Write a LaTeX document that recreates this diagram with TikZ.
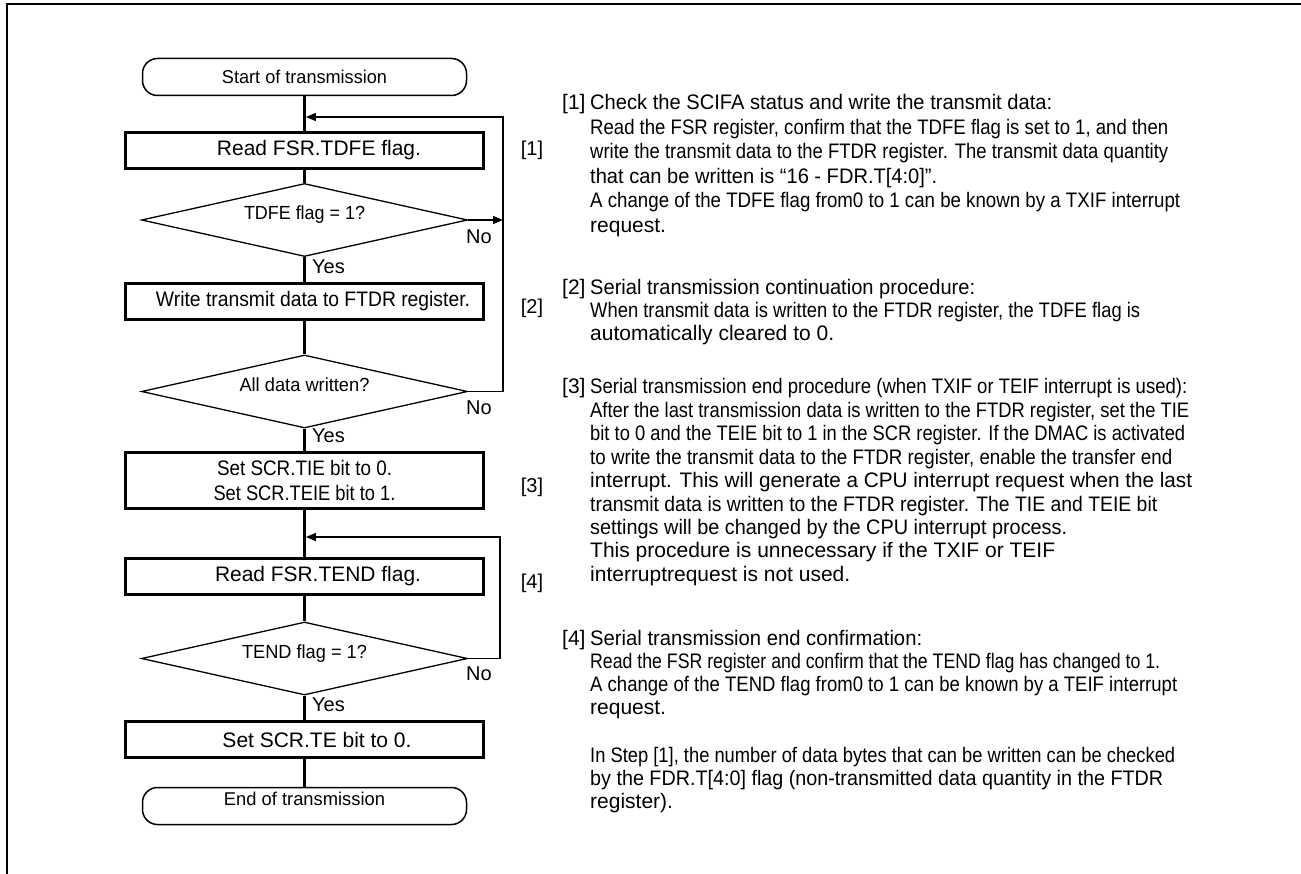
\documentclass[tikz,border=0pt]{standalone}
\usepackage{fontspec}
\setmainfont{Liberation Sans}
\usepackage{graphicx}
\usetikzlibrary{shapes.geometric,arrows.meta}
\newcommand{\fitto}[2]{\resizebox{#1pt}{\height}{#2}}
\newcommand{\tline}[4]{\node[txt] (#1) at (590,#2+7) {\fitto{#3}{#4}};}
\newcommand{\nline}[3]{\node[txt] (#1) at (590,#2+7) {#3};}
\newcommand{\headln}[5]{\node[txt] (#1) at (562,#2+7) {\makebox[28pt][l]{#3}\fitto{#4}{#5}};}
\begin{document}
\begin{tikzpicture}[x=1pt,y=-1pt,
  frame/.style={line width=2pt},
  term/.style={draw, line width=1.5pt, rounded corners=15pt, minimum width=324pt, minimum height=37pt, inner sep=0pt, font=\fontsize{18.5}{21}\selectfont},
  proc/.style={draw, line width=3pt, minimum width=358pt, minimum height=36pt, inner sep=0pt, font=\fontsize{21}{25}\selectfont, align=center},
  dec/.style={draw, diamond, aspect=4.4, line width=1.3pt, minimum width=326pt, minimum height=73pt, inner sep=0pt, font=\fontsize{19}{21}\selectfont, text height=13pt, text depth=13pt},
  flow/.style={line width=2.8pt},
  loopl/.style={line width=1.3pt},
  arr/.style={-{Triangle[length=10pt,width=8pt]}},
  yn/.style={font=\fontsize{20}{21}\selectfont, inner sep=0pt, anchor=west},
  tag/.style={font=\fontsize{20}{21}\selectfont, inner sep=0pt},
  txt/.style={font=\fontsize{21}{24}\selectfont, inner sep=0pt, anchor=base west},
]
\useasboundingbox (0,0) rectangle (1301,874);
\fill[white] (0,0) rectangle (1301,874);
% outer frame
\coordinate (f1) at (1301,4);
\coordinate (f2) at (7,4);
\coordinate (f3) at (7,874);
\draw[frame] (f1) -- (f2) -- (f3);

% flowchart
\node[term] (start) at (304.5,77) {\fitto{165}{Start of transmission}};
\node[proc] (b1) at (304.5,150.5) {\hspace*{29pt}\fitto{204}{Read FSR.TDFE flag.}};
\node[dec] (d1) at (304.5,220) {\fitto{121}{TDFE flag = 1?}};
\node[proc] (b2) at (304.5,301.5) {\hspace*{17pt}\fitto{314}{Write transmit data to FTDR register.}};
\node[dec] (d2) at (304.5,391.5) {\fitto{130}{All data written?}};
\node[proc, minimum height=56pt] (b3) at (304.5,480.5) {\fitto{175}{Set SCR.TIE bit to 0.}\\\fitto{182}{Set SCR.TEIE bit to 1.}};
\node[proc] (b4) at (304.5,576.5) {\hspace*{27pt}\fitto{206}{Read FSR.TEND flag.}};
\node[dec] (d3) at (304.5,658.5) {\fitto{125}{TEND flag = 1?}};
\node[proc] (b5) at (304.5,739.5) {\hspace*{25pt}\fitto{189}{Set SCR.TE bit to 0.}};
\node[term, text height=13pt, text depth=14pt] (end) at (304.5,806) {\fitto{161}{End of transmission}};

\coordinate (j1) at (304.5,117);
\coordinate (j2) at (304.5,537);
\draw[flow] (start) -- (b1);
\draw[flow] (b1) -- (d1);
\draw[flow] (d1) -- (b2);
\draw[flow] (b2) -- (d2);
\draw[flow] (d2) -- (b3);
\draw[flow] (b3) -- (b4);
\draw[flow] (b4) -- (d3);
\draw[flow] (d3) -- (b5);
\draw[flow] (b5) -- (end);

% loops
\coordinate (c0) at (503,220);
\coordinate (c1) at (503,391.5);
\coordinate (c2) at (503,117);
\coordinate (c3) at (500,658.5);
\coordinate (c4) at (500,537);
\draw[loopl, arr] (d1.east) -- (c0);
\draw[loopl, arr, shorten >=1.4pt] (d2.east) -- (c1) -- (c2) -- (j1);
\draw[loopl, arr, shorten >=1.4pt] (d3.east) -- (c3) -- (c4) -- (j2);

% yes / no
\node[yn] (y1) at (312,267) {Yes};
\node[yn] (n1) at (466,237) {No};
\node[yn] (y2) at (312,436) {Yes};
\node[yn] (n2) at (466,408) {No};
\node[yn] (y3) at (312,705) {Yes};
\node[yn] (n3) at (466,674) {No};

% step tags
\node[tag] (t1) at (532,150) {[1]};
\node[tag] (t2) at (532,308) {[2]};
\node[tag] (t3) at (532,487) {[3]};
\node[tag] (t4) at (532,583) {[4]};

% description text
\headln{h1}{103}{[1]}{462}{Check the SCIFA status and write the transmit data:}
\tline{a2}{127.5}{578}{Read the FSR register, confirm that the TDFE flag is set to 1, and then}
\tline{a3}{152}{578}{write the transmit data to the FTDR register. The transmit data quantity}
\tline{a4}{176.5}{347}{that can be written is “16 - FDR.T[4:0]”.}
\tline{a5}{201}{590}{A change of the TDFE flag from0 to 1 can be known by a TXIF interrupt}
\nline{a6}{226}{request.}

\headln{h2}{288}{[2]}{385}{Serial transmission continuation procedure:}
\tline{b7}{311}{550}{When transmit data is written to the FTDR register, the TDFE flag is}
\nline{b8}{334}{automatically cleared to 0.}

\headln{h3}{387}{[3]}{597}{Serial transmission end procedure (when TXIF or TEIF interrupt is used):}
\tline{c5}{410.4}{599}{After the last transmission data is written to the FTDR register, set the TIE}
\tline{c6}{433.8}{595}{bit to 0 and the TEIE bit to 1 in the SCR register. If the DMAC is activated}
\tline{c7}{457.2}{582}{to write the transmit data to the FTDR register, enable the transfer end}
\tline{c8}{480.6}{602}{interrupt. This will generate a CPU interrupt request when the last}
\tline{c9}{504}{567}{transmit data is written to the FTDR register. The TIE and TEIE bit}
\tline{c10}{527.4}{477}{settings will be changed by the CPU interrupt process.}
\tline{c11}{550.8}{465}{This procedure is unnecessary if the TXIF or TEIF}
\tline{c12}{574.2}{260}{interruptrequest is not used.}

\headln{h4}{638}{[4]}{332}{Serial transmission end confirmation:}
\tline{e2}{661}{570}{Read the FSR register and confirm that the TEND flag has changed to 1.}
\tline{e3}{684}{587}{A change of the TEND flag from0 to 1 can be known by a TEIF interrupt}
\nline{e4}{707}{request.}
\tline{e5}{755}{585}{In Step [1], the number of data bytes that can be written can be checked}
\tline{e6}{778}{573}{by the FDR.T[4:0] flag (non-transmitted data quantity in the FTDR}
\nline{e7}{801}{register).}
\end{tikzpicture}
\end{document}
